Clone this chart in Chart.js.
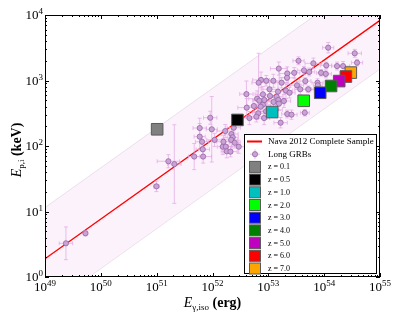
<!DOCTYPE html>
<html>
<head>
<meta charset="utf-8">
<script src="https://cdn.jsdelivr.net/npm/chart.js@4.4.1/dist/chart.umd.min.js"></script>
<style>
    html, body { margin: 0; padding: 0; background: #fff; }
    #wrap { width: 400px; height: 320px; }
</style>
</head>
<body>
<div id="wrap"><canvas id="chartEp"></canvas></div>
<script>
// decades on the axes
const xDecades = [49, 50, 51, 52, 53, 54, 55];
const yDecades = [0, 1, 2, 3, 4];

// Nava 2012 complete sample fit and its scatter band
const fitE = [1e49, 1e55];
const fitEp = [1.9, 8300];
const bandHiEp = [11.5, 50000];
const bandLoEp = [0.33, 1500];

// long GRBs (errors in dex)
const grbE = [1.18e54, 3.53e54, 3.88e54, 3.47e53, 6.4e53, 1.09e54, 1.7e54, 2.18e54, 1.54e53, 4.35e53,
    2.18e53, 2.91e53, 5.4e53, 8.8e53, 1.07e54, 2.16e53, 7.4e52, 6.7e52, 9.2e52, 1.23e53,
    1.73e53, 4.6e53, 7.6e53, 7.7e53, 3.26e53, 1.05e53, 2.07e53, 3.73e53, 5.2e53, 1.49e53,
    2.4e53, 4.05e52, 8.0e52, 1.07e53, 1.41e53, 6.3e52, 6.9e52, 1.51e53, 8.0e52, 1.24e53,
    1.55e53, 4.1e52, 5.5e52, 7.3e52, 1.35e53, 9.1e52, 6.6e52, 2.18e53, 2.6e53, 4.5e53,
    4.58e52, 6.1e52, 8.4e52, 1.66e53, 9.1e51, 9.7e51, 1.69e52, 2.4e52, 2.18e52, 2.3e52,
    2.16e52, 2.5e52, 2.95e52, 1.53e52, 1.73e52, 1.09e52, 6.5e51, 6.8e51, 5.9e51, 5.9e51,
    6.7e51, 4.7e51, 1.62e51, 2.07e51, 9.9e50, 2.37e49, 5.3e49, 7.5e53, 1.9e53, 8.5e52,
    1.57e52, 1.8e52, 2.1e52];
const grbEp = [3170, 2600, 1870, 2000, 1830, 1700, 1660, 1660, 1520, 1430,
    1280, 1310, 1350, 1310, 1260, 1100, 1020, 925, 990, 990,
    925, 980, 925, 845, 845, 735, 700, 735, 735, 675,
    650, 620, 615, 580, 565, 527, 492, 504, 427, 470,
    443, 385, 408, 398, 355, 339, 316, 308, 301, 322,
    267, 280, 267, 227, 270, 180, 169, 190, 152, 136,
    124, 112, 97.5, 97.5, 97.5, 124, 116, 69, 188, 139,
    89, 69, 58.5, 53, 24.2, 3.27, 4.65, 735, 487, 504,
    116, 83, 82];
const grbEErr = [0.1, 0.12, 0.1, 0.1, 0.15, 0.1, 0.1, 0.12, 0.15, 0.12,
    0.14, 0.1, 0.1, 0.08, 0.1, 0.14, 0.15, 0.12, 0.1, 0.12,
    0.12, 0.1, 0.1, 0.08, 0.12, 0.15, 0.12, 0.1, 0.1, 0.15,
    0.1, 0.12, 0.14, 0.12, 0.1, 0.15, 0.12, 0.12, 0.14, 0.12,
    0.1, 0.16, 0.12, 0.1, 0.12, 0.15, 0.1, 0.1, 0.1, 0.08,
    0.14, 0.12, 0.1, 0.12, 0.12, 0.1, 0.15, 0.12, 0.12, 0.1,
    0.12, 0.1, 0.12, 0.1, 0.1, 0.14, 0.12, 0.15, 0.12, 0.1,
    0.12, 0.1, 0.2, 0.12, 0.05, 0.12, 0.04, 0.1, 0.12, 0.1,
    0.12, 0.1, 0.12];
const grbEpErr = [0.08, 0.06, 0.05, 0.06, 0.08, 0.05, 0.06, 0.07, 0.1, 0.06,
    0.1, 0.08, 0.06, 0.05, 0.06, 0.1, 0.12, 0.45, 0.08, 0.1,
    0.08, 0.05, 0.06, 0.05, 0.06, 0.1, 0.12, 0.08, 0.05, 0.15,
    0.08, 0.2, 0.12, 0.08, 0.1, 0.12, 0.08, 0.1, 0.1, 0.08,
    0.1, 0.14, 0.1, 0.08, 0.1, 0.12, 0.08, 0.06, 0.07, 0.05,
    0.1, 0.08, 0.1, 0.08, 0.1, 0.5, 0.1, 0.08, 0.1, 0.08,
    0.1, 0.08, 0.1, 0.12, 0.08, 0.1, 0.08, 0.1, 0.15, 0.2,
    0.1, 0.2, 0.1, 0.6, 0.08, 0.25, 0.04, 0.06, 0.1, 0.08,
    0.1, 0.1, 0.08];

// one burst moved to higher redshift
const zLabels = ["z = 0.1", "z = 0.5", "z = 1.0", "z = 2.0", "z = 3.0", "z = 4.0", "z = 5.0", "z = 6.0", "z = 7.0"];
const zE = [1.02e51, 2.8e52, 1.17e53, 4.3e53, 8.5e53, 1.33e54, 1.86e54, 2.45e54, 3.0e54];
const zEp = [180, 250, 330, 490, 650, 825, 980, 1150, 1320];
const zColors = ["#808080", "#000000", "#00bfbf", "#00ff00", "#0000ff", "#008000", "#bf00bf", "#ff0000", "#ffa500"];

const SERIF = '"Liberation Serif", "DejaVu Serif", serif';
const ERR_COLOR = "rgba(228,170,228,0.75)";
const GRB_FILL = "#c9a2d6";
const GRB_EDGE = "#9566a6";

function pts(xs, ys) {
    return xs.map((v, i) => ({ x: v, y: ys[i] }));
}

// text made of parts with different fonts, centred on x
function drawParts(ctx, parts, x, y) {
    let total = 0;
    parts.forEach(p => { ctx.font = p.font; total += ctx.measureText(p.t).width; });
    let cx = x - total / 2;
    ctx.textAlign = "left";
    ctx.textBaseline = "alphabetic";
    parts.forEach(p => {
        ctx.font = p.font;
        ctx.fillText(p.t, cx, y + (p.dy || 0));
        cx += ctx.measureText(p.t).width;
    });
}

const errorBars = {
    id: "errorBars",
    beforeDatasetDraw(chart, args) {
        const ds = chart.data.datasets[args.index];
        if (!ds.errX) return;
        const { ctx, chartArea, scales: { x, y } } = chart;
        ctx.save();
        ctx.beginPath();
        ctx.rect(chartArea.left, chartArea.top, chartArea.width, chartArea.height);
        ctx.clip();
        ctx.strokeStyle = ERR_COLOR;
        ctx.lineWidth = 1;
        ds.data.forEach((p, i) => {
            const fx = Math.pow(10, ds.errX[i]);
            const fy = Math.pow(10, ds.errY[i]);
            const px = x.getPixelForValue(p.x), py = y.getPixelForValue(p.y);
            const x0 = x.getPixelForValue(p.x / fx), x1 = x.getPixelForValue(p.x * fx);
            const y0 = y.getPixelForValue(p.y / fy), y1 = y.getPixelForValue(p.y * fy);
            ctx.beginPath();
            ctx.moveTo(x0, py); ctx.lineTo(x1, py);
            ctx.moveTo(px, y0); ctx.lineTo(px, y1);
            ctx.moveTo(x0, py - 2); ctx.lineTo(x0, py + 2);
            ctx.moveTo(x1, py - 2); ctx.lineTo(x1, py + 2);
            ctx.moveTo(px - 2, y0); ctx.lineTo(px + 2, y0);
            ctx.moveTo(px - 2, y1); ctx.lineTo(px + 2, y1);
            ctx.stroke();
        });
        ctx.restore();
    }
};

const frameAxes = {
    id: "frameAxes",
    afterDraw(chart) {
        const { ctx, chartArea: a, scales: { x, y } } = chart;
        ctx.save();
        ctx.strokeStyle = "#000";
        ctx.lineWidth = 1;
        ctx.strokeRect(a.left + 0.5, a.top + 0.5, a.width - 1, a.height - 1);

        ctx.beginPath();
        xDecades.forEach(d => {
            for (let k = 1; k <= 9; k++) {
                const v = k * Math.pow(10, d);
                if (v > x.max * 1.0001) break;
                const px = Math.round(x.getPixelForValue(v)) + 0.5;
                const len = k === 1 ? 4 : 2;
                ctx.moveTo(px, a.bottom); ctx.lineTo(px, a.bottom - len);
                ctx.moveTo(px, a.top); ctx.lineTo(px, a.top + len);
            }
        });
        yDecades.forEach(d => {
            for (let k = 1; k <= 9; k++) {
                const v = k * Math.pow(10, d);
                if (v > y.max * 1.0001) break;
                const py = Math.round(y.getPixelForValue(v)) + 0.5;
                const len = k === 1 ? 4 : 2;
                ctx.moveTo(a.left, py); ctx.lineTo(a.left + len, py);
                ctx.moveTo(a.right, py); ctx.lineTo(a.right - len, py);
            }
        });
        ctx.stroke();

        // tick labels
        ctx.fillStyle = "#000";
        xDecades.forEach(d => {
            const px = x.getPixelForValue(Math.pow(10, d));
            drawParts(ctx, [
                { t: "10", font: "13px " + SERIF },
                { t: String(d), font: "9px " + SERIF, dy: -5 }
            ], px, a.bottom + 14);
        });
        yDecades.forEach(d => {
            const py = y.getPixelForValue(Math.pow(10, d));
            ctx.font = "9px " + SERIF;
            const w2 = ctx.measureText(String(d)).width;
            ctx.font = "13px " + SERIF;
            const w1 = ctx.measureText("10").width;
            drawParts(ctx, [
                { t: "10", font: "13px " + SERIF },
                { t: String(d), font: "9px " + SERIF, dy: -5 }
            ], a.left - 2 - (w1 + w2) / 2, py + 4);
        });

        // axis titles
        drawParts(ctx, [
            { t: "E", font: "italic 14px " + SERIF },
            { t: "\u03b3,iso", font: "9px " + SERIF, dy: 3 },
            { t: " (erg)", font: "bold 14px " + SERIF }
        ], (a.left + a.right) / 2, 307);
        ctx.save();
        ctx.translate(16, (a.top + a.bottom) / 2 + 4);
        ctx.rotate(-Math.PI / 2);
        drawParts(ctx, [
            { t: "E", font: "italic 14px " + SERIF },
            { t: "p,i", font: "9px " + SERIF, dy: 3 },
            { t: " (keV)", font: "bold 14px " + SERIF }
        ], 0, 5);
        ctx.restore();
        ctx.restore();
    }
};

const boxLegend = {
    id: "boxLegend",
    afterDraw(chart) {
        const ctx = chart.ctx;
        const bx = 244, by = 134, bw = 132, bh = 139;
        ctx.save();
        ctx.fillStyle = "#fff";
        ctx.fillRect(bx, by, bw, bh);
        ctx.strokeStyle = "#000";
        ctx.lineWidth = 1;
        ctx.strokeRect(bx + 0.5, by + 0.5, bw, bh);

        const mx = 255, tx = 268;
        let row = 0;
        chart.data.datasets.forEach(ds => {
            if (!ds.legendKind) return;
            const cy = by + 7.5 + row * 12.7;
            if (ds.legendKind === "line") {
                ctx.strokeStyle = ds.borderColor;
                ctx.lineWidth = 2;
                ctx.beginPath();
                ctx.moveTo(mx - 8, cy); ctx.lineTo(mx + 7, cy);
                ctx.stroke();
            } else if (ds.legendKind === "grb") {
                ctx.strokeStyle = ERR_COLOR;
                ctx.lineWidth = 1;
                ctx.beginPath();
                ctx.moveTo(mx - 5, cy); ctx.lineTo(mx + 5, cy);
                ctx.moveTo(mx, cy - 5); ctx.lineTo(mx, cy + 5);
                ctx.stroke();
                ctx.fillStyle = GRB_FILL;
                ctx.strokeStyle = GRB_EDGE;
                ctx.lineWidth = 0.8;
                ctx.beginPath();
                ctx.arc(mx, cy, 2.6, 0, Math.PI * 2);
                ctx.fill(); ctx.stroke();
            } else {
                ctx.fillStyle = ds.backgroundColor;
                ctx.strokeStyle = ds.borderColor;
                ctx.lineWidth = 1;
                ctx.fillRect(mx - 5.5, cy - 5.5, 11, 11);
                ctx.strokeRect(mx - 5.5, cy - 5.5, 11, 11);
            }
            ctx.fillStyle = "#000";
            ctx.font = (ds.legendKind === "square" ? "8px " : "9px ") + SERIF;
            ctx.textAlign = "left";
            ctx.textBaseline = "middle";
            ctx.fillText(ds.label, tx, cy + 0.5);
            row++;
        });
        ctx.restore();
    }
};

const datasets = [
    {
        label: "band high", data: pts(fitE, bandHiEp), showLine: true,
        borderColor: "#e6d8e6", borderWidth: 0.8, pointRadius: 0,
        fill: "+1", backgroundColor: "rgba(246,226,246,0.45)", order: 30
    },
    {
        label: "band low", data: pts(fitE, bandLoEp), showLine: true,
        borderColor: "#e6d8e6", borderWidth: 0.8, pointRadius: 0, fill: false, order: 31
    },
    {
        label: "Nava 2012 Complete Sample", legendKind: "line",
        data: pts(fitE, fitEp), showLine: true,
        borderColor: "#ff0000", borderWidth: 1.4, pointRadius: 0, fill: false, order: 20
    },
    {
        label: "Long GRBs", legendKind: "grb",
        data: pts(grbE, grbEp), errX: grbEErr, errY: grbEpErr,
        pointRadius: 2.6, pointBackgroundColor: GRB_FILL, pointBorderColor: GRB_EDGE,
        pointBorderWidth: 0.8, backgroundColor: GRB_FILL, borderColor: GRB_EDGE, order: 10
    }
];
zLabels.forEach((lab, i) => {
    datasets.push({
        label: lab, legendKind: "square",
        data: [{ x: zE[i], y: zEp[i] }],
        pointStyle: "rect", pointRadius: 8.2,
        backgroundColor: zColors[i], borderColor: "#5a5a5a", borderWidth: 1, order: 1
    });
});

new Chart(document.getElementById("chartEp"), {
    type: "scatter",
    data: { datasets },
    options: {
        responsive: true,
        maintainAspectRatio: false,
        animation: false,
        layout: { padding: { left: 0, right: 20, top: 15, bottom: 0 } },
        plugins: {
            legend: { display: false },
            tooltip: { enabled: false }
        },
        scales: {
            x: {
                type: "logarithmic", min: 1e49, max: 1e55,
                ticks: { display: false }, grid: { display: false }, border: { display: false },
                afterFit(s) { s.height = 43; }
            },
            y: {
                type: "logarithmic", min: 1, max: 1e4,
                ticks: { display: false }, grid: { display: false }, border: { display: false },
                afterFit(s) { s.width = 45; }
            }
        }
    },
    plugins: [errorBars, frameAxes, boxLegend]
});
</script>
</body>
</html>
